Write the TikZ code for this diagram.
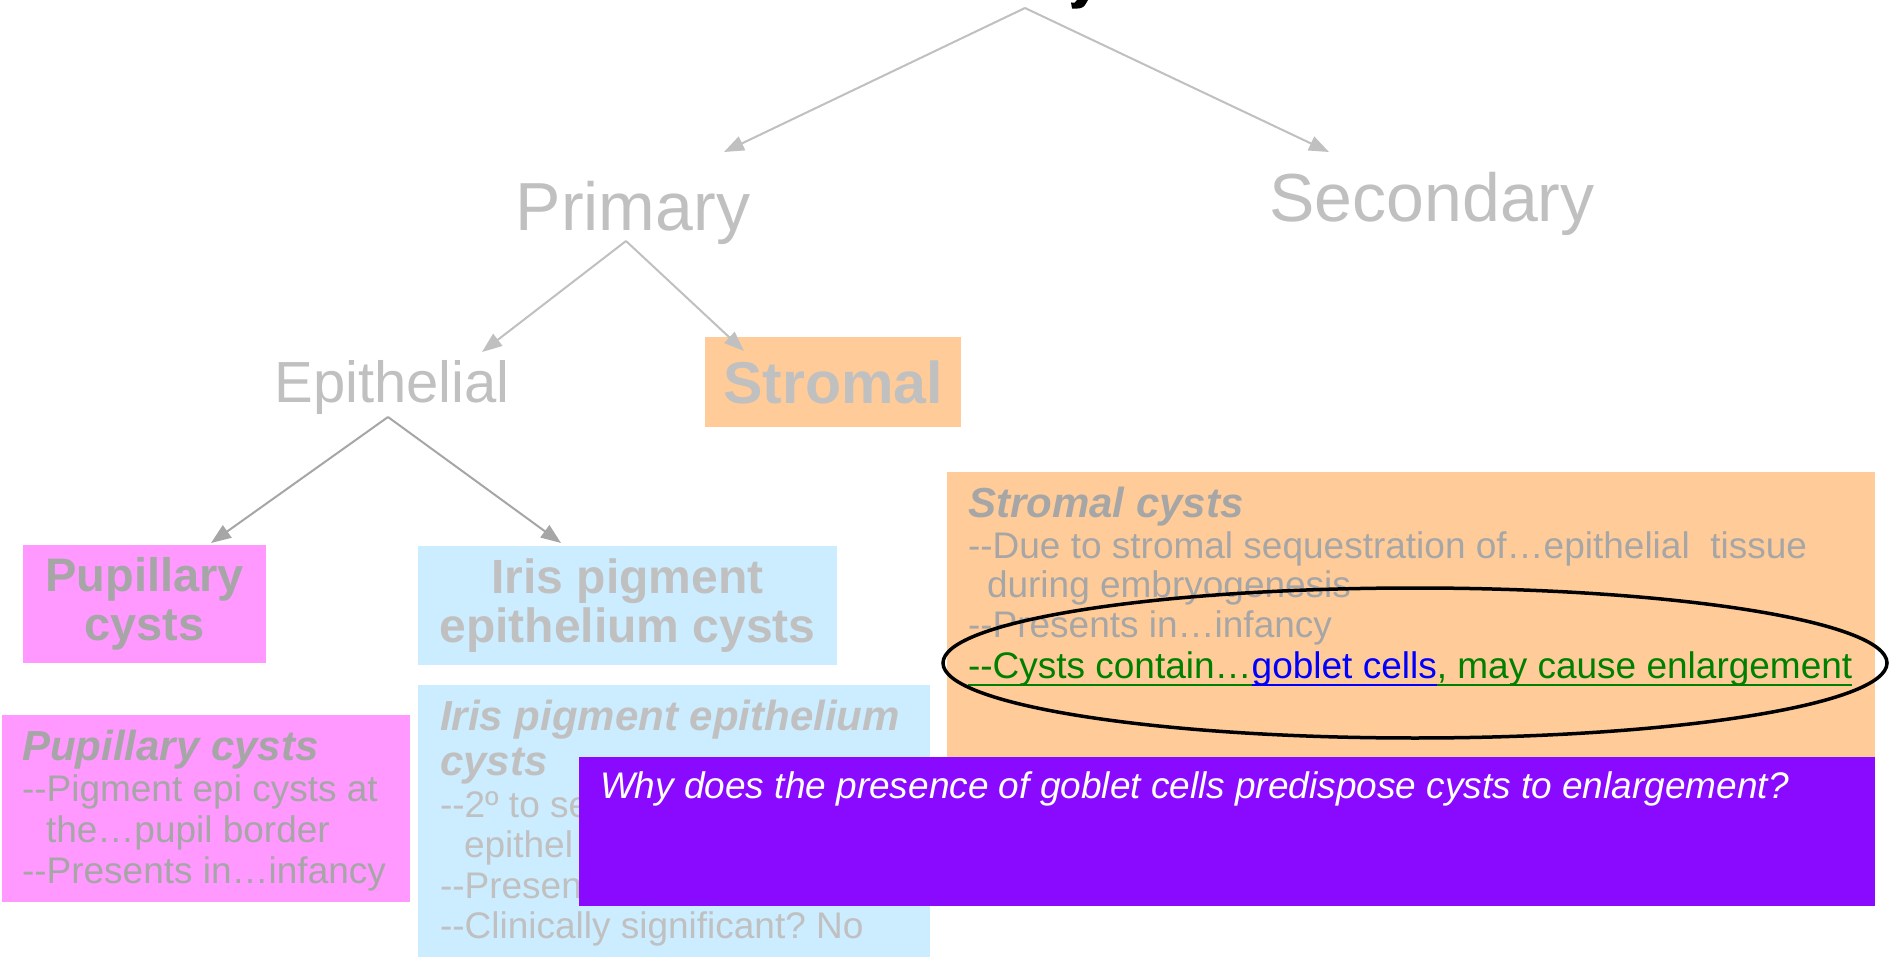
\documentclass[tikz,border=0pt]{standalone}
\usepackage{fontspec}
\setmainfont{Liberation Sans}
\usetikzlibrary{arrows.meta}
\definecolor{pinkc}{HTML}{FF99FF}
\definecolor{bluec}{HTML}{CCECFF}
\definecolor{orangec}{HTML}{FFCC99}
\definecolor{purplec}{HTML}{8A0AFF}
\definecolor{lgray}{HTML}{C0C0C0}
\definecolor{dgray}{HTML}{A6A6A6}
\definecolor{greenc}{HTML}{008000}
\definecolor{bluet}{HTML}{0000FF}
\frenchspacing
\begin{document}
\begin{tikzpicture}[x=1pt,y=-1pt,
  box/.style={fill=#1, draw=none, inner sep=0pt, outer sep=0pt},
  txt/.style={inner sep=0pt, outer sep=0pt, anchor=base west},
  ctxt/.style={inner sep=0pt, outer sep=0pt, anchor=base},
  big/.style={font=\fontsize{68}{70}\selectfont, text=lgray},
  mid/.style={font=\fontsize{58}{60}\selectfont, text=lgray},
  ttl/.style={font=\fontsize{42}{45}\selectfont\bfseries\itshape},
  body/.style={font=\fontsize{37}{40}\selectfont},
  conn/.style={draw=#1, line width=2pt, -{Triangle[length=20pt,width=15pt,fill=#1]}}
]
\useasboundingbox (0,0) rectangle (1891,957);
\fill[white] (0,0) rectangle (1891,957);

% cut-off title descender
\fill[black] (1078,0) -- (1088,0) -- (1085,5) .. controls (1083,8.5) and (1078,9) .. (1072,8.5) -- (1071,2.5) .. controls (1074,3.5) and (1076,2.5) .. (1077,0) -- cycle;

% level 1
\node[ctxt, big] (primary) at (633,231) {Primary};
\node[ctxt, big] (secondary) at (1432,222) {Secondary};
\coordinate (topapex) at (1025,8);
\coordinate (primtip) at (724,152);
\coordinate (sectip) at (1329,152);
\draw[conn=lgray] (topapex) -- (primtip);
\draw[conn=lgray] (topapex) -- (sectip);

% level 2
\node[ctxt, mid] (epithelial) at (392,403) {Epithelial};
\node[box=orangec, minimum width=256pt, minimum height=90pt, align=center,
      font=\fontsize{59}{60}\selectfont\bfseries, text=lgray] (stromal) at (833,382) {Stromal};
\coordinate (primapex) at (626,241);
\coordinate (epitip) at (482,352);
\coordinate (stromtip) at (744,351);
\draw[conn=lgray] (primapex) -- (epitip);
\draw[conn=lgray] (primapex) -- (stromtip);

% level 3 headers
\node[box=pinkc, minimum width=243pt, minimum height=118pt, align=center,
      font=\fontsize{47}{49}\selectfont\bfseries, text=dgray] (pupH) at (144.5,604) {Pupillary\\cysts};
\node[box=bluec, minimum width=419pt, minimum height=119pt, align=center,
      font=\fontsize{48}{49}\selectfont\bfseries, text=lgray] (irisH) at (627.5,605.5) {Iris pigment\\epithelium cysts};
\coordinate (epiapex) at (388,417);
\coordinate (puptip) at (211,543);
\coordinate (iristip) at (561,543);
\draw[conn=dgray] (epiapex) -- (puptip);
\draw[conn=dgray] (epiapex) -- (iristip);

% pupillary detail
\node[box=pinkc, minimum width=408pt, minimum height=187pt] (pupD) at (206,808.5) {};
\node[txt, ttl, text=dgray] (pd1) at (22,760) {Pupillary cysts};
\node[txt, body, text=dgray] (pd2) at (22,801) {-{}-Pigment epi cysts at};
\node[txt, body, text=dgray] (pd3) at (46,842) {the…pupil border};
\node[txt, body, text=dgray] (pd4) at (22,883) {-{}-Presents in…infancy};

% iris detail
\node[box=bluec, minimum width=512pt, minimum height=275pt] (irisD) at (674,822.5) {};
\node[txt, ttl, text=lgray] (id1) at (440,730) {Iris pigment epithelium};
\node[txt, ttl, text=lgray] (id2) at (440,775) {cysts};
\node[txt, body, text=lgray] (id3) at (440,817) {-{}-2º to se};
\node[txt, body, text=lgray] (id4) at (464,857) {epithel};
\node[txt, body, text=lgray] (id5) at (440,898) {-{}-Presen};
\node[txt, body, text=lgray] (id6) at (440,938) {-{}-Clinically significant? No};

% stromal detail
\node[box=orangec, minimum width=928pt, minimum height=434pt] (stromD) at (1411,689) {};
\node[txt, ttl, text=dgray] (sd1) at (968,517) {Stromal cysts};
\node[txt, body, text=dgray] (sd2) at (968,558) {-{}-Due to stromal sequestration of…epithelial\ \ tissue};
\node[txt, body, text=dgray] (sd3) at (987,597) {during embryogenesis};
\node[txt, body, text=dgray] (sd4) at (968,637) {-{}-Presents in…infancy};
\node[txt, body, text=greenc] (sd5a) at (968,678) {-{}-Cysts contain…};
\node[txt, body, text=bluet] (sd5b) at (sd5a.base east) {goblet cells};
\node[txt, body, text=greenc] (sd5c) at (sd5b.base east) {, may cause enlargement};
\draw[greenc, line width=2.2pt] ([yshift=-7pt]sd5a.base west) -- ([yshift=-7pt]sd5a.base east);
\draw[bluet, line width=2.2pt] ([yshift=-7pt]sd5b.base west) -- ([yshift=-7pt]sd5b.base east);
\draw[greenc, line width=2.2pt] ([yshift=-7pt]sd5c.base west) -- ([yshift=-7pt]sd5c.base east);

% highlight ellipse
\draw[black, line width=3.5pt] (1415,663) ellipse [x radius=472, y radius=75];

% question box
\node[box=purplec, minimum width=1296pt, minimum height=149pt] (question) at (1227,831.5) {};
\node[txt, font=\fontsize{37}{40}\selectfont\itshape, text=white] (qtext) at (600,798) {Why does the presence of goblet cells predispose cysts to enlargement?};
\end{tikzpicture}
\end{document}
